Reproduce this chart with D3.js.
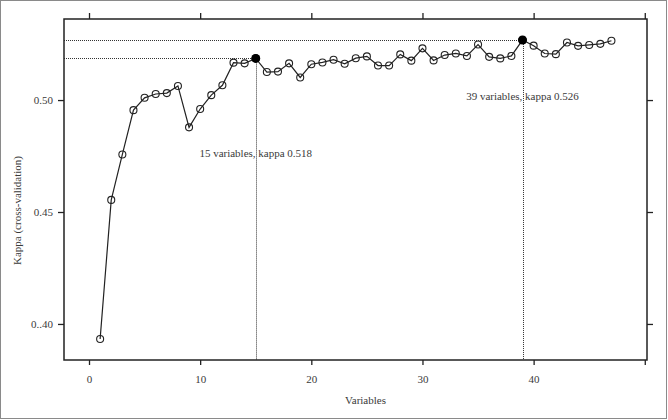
<!DOCTYPE html>
<html>
<head>
<meta charset="utf-8">
<script src="https://cdn.jsdelivr.net/npm/d3@7"></script>
<style>
  body { margin: 0; background: #fff; }
  text { font-family: "Liberation Serif", "DejaVu Serif", serif; fill: #3a3a3a; }
</style>
</head>
<body>
<div id="vis-container"></div>
<script>
// chart size
const width = 668;
const height = 420;
const margin = {left: 64, right: 21, top: 19, bottom: 60};

// kappa for 1..47 variables
const kappa = [0.3933, 0.4554, 0.4757, 0.4955, 0.5010, 0.5027, 0.5031, 0.5063, 0.4878, 0.4960,
               0.5022, 0.5066, 0.5167, 0.5164, 0.5186, 0.5125, 0.5127, 0.5164, 0.5101, 0.5160,
               0.5168, 0.5180, 0.5162, 0.5187, 0.5195, 0.5154, 0.5154, 0.5204, 0.5176, 0.5231,
               0.5177, 0.5201, 0.5208, 0.5197, 0.5248, 0.5193, 0.5186, 0.5197, 0.5268, 0.5243,
               0.5208, 0.5205, 0.5257, 0.5242, 0.5246, 0.5251, 0.5265];
const variables = kappa.map((d, i) => i + 1);

// highlighted points and their labels
const bestVars = [15, 39];
const bestLabels = ["15 variables, kappa 0.518", "39 variables, kappa 0.526"];
const labelKappa = [0.4763, 0.5018];

const xTicks = [0, 10, 20, 30, 40, 50];
const yTicks = [0.40, 0.45, 0.50];
const yTickLabels = ["0..40", "0.45", "0.50"];

const data = variables.map((v, i) => ({v: v, k: kappa[i]}));

const svg = d3.select("#vis-container")
  .append("svg")
  .attr("width", width)
  .attr("height", height);

// outer grey frame
svg.append("rect")
  .attr("x", 0.5).attr("y", 0.5)
  .attr("width", width - 2).attr("height", height - 2)
  .attr("fill", "none")
  .attr("stroke", "#8a8a8a");

const x = d3.scaleLinear()
  .domain([-2.25, 50.2])
  .range([margin.left, width - margin.right]);

const y = d3.scaleLinear()
  .domain([0.3839, 0.5362])
  .range([height - margin.bottom, margin.top]);

const x0 = x.range()[0], x1 = x.range()[1];
const y0 = y.range()[0], y1 = y.range()[1];
const crisp = v => Math.round(v) + 0.5;

// axes (ticks only, the box is drawn below)
function styleAxis(g) {
  g.select(".domain").remove();
  g.selectAll(".tick line").attr("stroke", "#222").attr("stroke-width", 1.3);
  g.selectAll(".tick text").attr("font-size", "11px").attr("fill", "#3a3a3a")
    .attr("font-family", "Liberation Serif, serif");
}

svg.append("g")
  .attr("transform", `translate(${x0},0)`)
  .call(d3.axisLeft(y).tickValues(yTicks).tickSize(6).tickPadding(5)
    .tickFormat((d, i) => yTickLabels[i]))
  .call(styleAxis);

svg.append("g")
  .attr("transform", `translate(${x1},0)`)
  .call(d3.axisRight(y).tickValues(yTicks).tickSize(6).tickFormat(""))
  .call(styleAxis);

svg.append("g")
  .attr("transform", `translate(0,${y0})`)
  .call(d3.axisBottom(x).tickValues(xTicks).tickSize(5).tickPadding(10)
    .tickFormat(d => d === 50 ? "" : d))
  .call(styleAxis);

svg.append("g")
  .attr("transform", `translate(0,${y1})`)
  .call(d3.axisTop(x).tickValues(xTicks).tickSize(6).tickFormat(""))
  .call(styleAxis);

// dotted guides to the two best points
bestVars.forEach(function(v) {
  const k = kappa[v - 1];
  svg.append("line")
    .attr("x1", x0).attr("x2", x(v))
    .attr("y1", crisp(y(k))).attr("y2", crisp(y(k)))
    .attr("stroke", "#333").attr("stroke-dasharray", "1,1");
  svg.append("line")
    .attr("x1", crisp(x(v))).attr("x2", crisp(x(v)))
    .attr("y1", y(k)).attr("y2", y0)
    .attr("stroke", "#333").attr("stroke-dasharray", "1,1");
});

// plot box
svg.append("rect")
  .attr("x", x0).attr("y", y1)
  .attr("width", x1 - x0).attr("height", y0 - y1)
  .attr("fill", "none")
  .attr("stroke", "#222")
  .attr("stroke-width", 1.5);

// line and open circles
const line = d3.line()
  .x(d => x(d.v))
  .y(d => y(d.k));

svg.append("path")
  .datum(data)
  .attr("fill", "none")
  .attr("stroke", "#222")
  .attr("stroke-width", 1.2)
  .attr("d", line);

svg.selectAll(".pt")
  .data(data)
  .enter()
  .append("circle")
  .attr("class", "pt")
  .attr("cx", d => x(d.v))
  .attr("cy", d => y(d.k))
  .attr("r", 3.5)
  .attr("fill", "none")
  .attr("stroke", "#222")
  .attr("stroke-width", 1.1);

svg.selectAll(".best")
  .data(bestVars)
  .enter()
  .append("circle")
  .attr("class", "best")
  .attr("cx", d => x(d))
  .attr("cy", d => y(kappa[d - 1]))
  .attr("r", 4.5)
  .attr("fill", "#000");

svg.selectAll(".bestlab")
  .data(bestVars)
  .enter()
  .append("text")
  .attr("class", "bestlab")
  .attr("x", d => x(d))
  .attr("y", (d, i) => y(labelKappa[i]))
  .attr("dy", "0.35em")
  .attr("text-anchor", "middle")
  .attr("font-size", "11px")
  .text((d, i) => bestLabels[i]);

// axis titles
svg.append("text")
  .attr("x", (x0 + x1) / 2 + 10)
  .attr("y", height - 16)
  .attr("text-anchor", "middle")
  .attr("font-size", "11px")
  .text("Variables");

svg.append("text")
  .attr("transform", `translate(17,${(y0 + y1) / 2 + 21}) rotate(-90)`)
  .attr("dy", "0.35em")
  .attr("text-anchor", "middle")
  .attr("font-size", "11px")
  .text("Kappa (cross-validation)");
</script>
</body>
</html>
